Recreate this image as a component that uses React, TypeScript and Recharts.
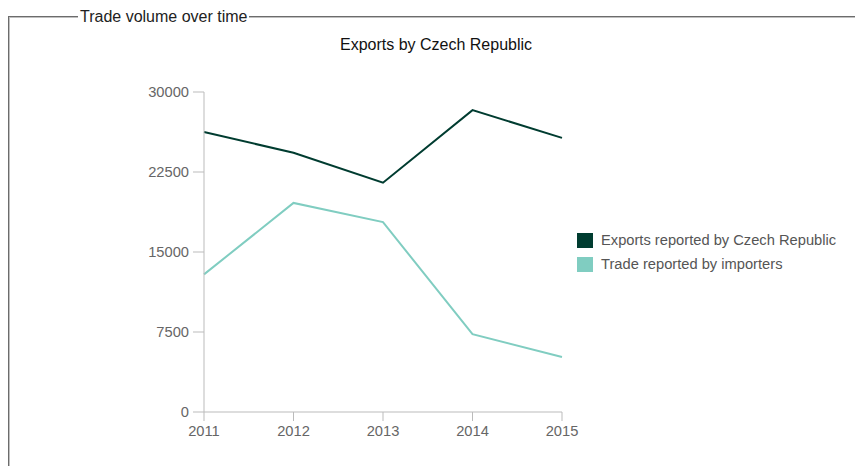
import React from 'react';
import { LineChart, Line, XAxis, YAxis, Legend } from 'recharts';

const years = ['2011', '2012', '2013', '2014', '2015'];
const exportsReported = [26250, 24300, 21500, 28300, 25700];
const importerReported = [12900, 19600, 17800, 7300, 5150];
const yTicks = [0, 7500, 15000, 22500, 30000];

const chartData = years.map((y, i) => ({
  year: y,
  exports: exportsReported[i],
  importers: importerReported[i],
}));

const font = '"Liberation Sans", Arial, Helvetica, sans-serif';

function LegendBox(props: any) {
  const { payload } = props;
  return (
    <ul style={{ listStyle: 'none', margin: 0, padding: 0 }}>
      {(payload || []).map((p: any) => (
        <li key={p.value} style={{ display: 'flex', alignItems: 'center', height: 24 }}>
          <span style={{ display: 'inline-block', width: 16, height: 15, background: p.color, marginRight: 8 }} />
          <span style={{ color: '#555', fontSize: 14.7, fontFamily: font }}>{p.value}</span>
        </li>
      ))}
    </ul>
  );
}

export default function App() {
  return (
    <div style={{ position: 'absolute', left: 0, top: 0, width: 855, height: 466, overflow: 'hidden', background: '#fff' }}>
      <fieldset
        style={{
          position: 'absolute',
          left: 8,
          top: 8,
          width: 900,
          height: 600,
          margin: 0,
          padding: 0,
          border: '2px groove #c0c0c0',
          boxSizing: 'border-box',
        }}
      >
        <legend style={{ marginLeft: 68, padding: '0 2px', fontFamily: font, fontSize: 16, color: '#222', lineHeight: '18px' }}>
          Trade volume over time
        </legend>
      </fieldset>
      <div
        style={{
          position: 'absolute',
          left: 0,
          width: 872,
          top: 35,
          textAlign: 'center',
          fontFamily: font,
          fontSize: 16,
          lineHeight: '20px',
          color: '#111',
        }}
      >
        Exports by Czech Republic
      </div>
      <div style={{ position: 'absolute', left: 0, top: 0 }}>
        <LineChart width={855} height={466} data={chartData} margin={{ top: 92, right: 293, left: 144, bottom: 24 }}>
          <XAxis
            dataKey="year"
            height={30}
            stroke="#bbb"
            tickSize={9}
            tickMargin={5}
            tick={{ fill: '#666', fontSize: 14.7, fontFamily: font }}
          />
          <YAxis
            width={60}
            domain={[0, 30000]}
            ticks={yTicks}
            stroke="#bbb"
            tickSize={11}
            tickMargin={4}
            tick={{ fill: '#666', fontSize: 14.7, fontFamily: font }}
          />
          <Legend
            layout="horizontal"
            verticalAlign="middle"
            align="center"
            content={<LegendBox />}
            wrapperStyle={{ position: 'absolute', left: 577, top: 228, width: 270 }}
          />
          <Line
            dataKey="exports"
            name="Exports reported by Czech Republic"
            stroke="#003c30"
            strokeWidth={2}
            dot={false}
            isAnimationActive={false}
          />
          <Line
            dataKey="importers"
            name="Trade reported by importers"
            stroke="#80cdc1"
            strokeWidth={2}
            dot={false}
            isAnimationActive={false}
          />
        </LineChart>
      </div>
    </div>
  );
}
